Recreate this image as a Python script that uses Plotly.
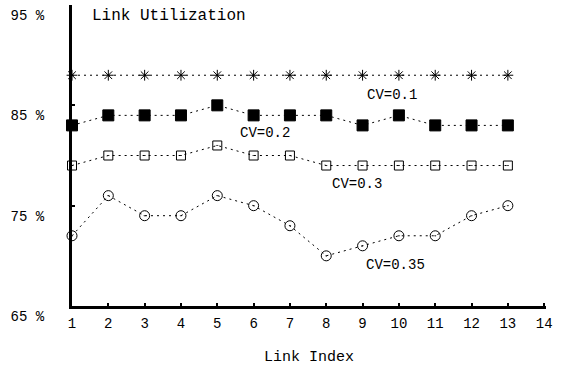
import plotly.graph_objects as go

links = list(range(1, 14))
cv01 = [88, 88, 88, 88, 88, 88, 88, 88, 88, 88, 88, 88, 88]
cv02 = [83, 84, 84, 84, 85, 84, 84, 84, 83, 84, 83, 83, 83]
cv03 = [79, 80, 80, 80, 81, 80, 80, 79, 79, 79, 79, 79, 79]
cv035 = [72, 76, 74, 74, 76, 75, 73, 70, 71, 72, 72, 74, 75]

x_ticks = list(range(1, 15))
y_ticks = [65, 75, 85, 95]
y_tick_text = ["65 %", "75 %", "85 %", "95 %"]

labels = ["CV=0.1", "CV=0.2", "CV=0.3", "CV=0.35"]
label_x = [9.8, 6.3, 8.85, 9.9]
label_y = [86.0, 82.2, 77.2, 69.1]

FONT = "Liberation Mono"

fig = go.Figure()
series = [
    (cv01, "asterisk-open", 9),
    (cv02, "square", 11),
    (cv03, "square-open-dot", 9),
    (cv035, "circle-open-dot", 10),
]
for vals, sym, size in series:
    fig.add_trace(go.Scatter(
        x=links, y=vals, mode="lines+markers",
        line=dict(color="black", width=1, dash="2px,4px"),
        marker=dict(symbol=sym, size=size, color="black",
                    line=dict(color="black", width=1)),
        showlegend=False, cliponaxis=False,
    ))

for t, xx, yy in zip(labels, label_x, label_y):
    fig.add_annotation(x=xx, y=yy, text=t, showarrow=False,
                       font=dict(family=FONT, size=14, color="black"))

fig.add_annotation(x=0.037, y=1.0, xref="paper", yref="paper", xanchor="left",
                   yanchor="top", text="Link Utilization", showarrow=False,
                   font=dict(family=FONT, size=16, color="black"))

fig.update_xaxes(
    range=[1, 14.05], tickmode="array", tickvals=x_ticks,
    ticks="inside", ticklen=3, tickwidth=2, tickcolor="black",
    showline=True, linewidth=3, linecolor="black", showgrid=False,
    zeroline=False, ticklabelstandoff=2,
    tickfont=dict(family=FONT, size=14, color="black"),
    title=dict(text="Link Index", font=dict(family=FONT, size=15, color="black"),
               standoff=20),
)
fig.update_yaxes(
    range=[65, 95], tickmode="array", tickvals=y_ticks, ticktext=y_tick_text,
    ticks="inside", ticklen=3, tickwidth=2, tickcolor="black",
    showline=True, linewidth=3, linecolor="black", showgrid=False,
    zeroline=False, ticklabelstandoff=22, ticklabelshift=10,
    tickfont=dict(family=FONT, size=14, color="black"),
)
fig.update_layout(
    width=561, height=385,
    margin=dict(l=72, r=15, t=5, b=79),
    plot_bgcolor="white", paper_bgcolor="white",
)
fig.write_html("out.html")
